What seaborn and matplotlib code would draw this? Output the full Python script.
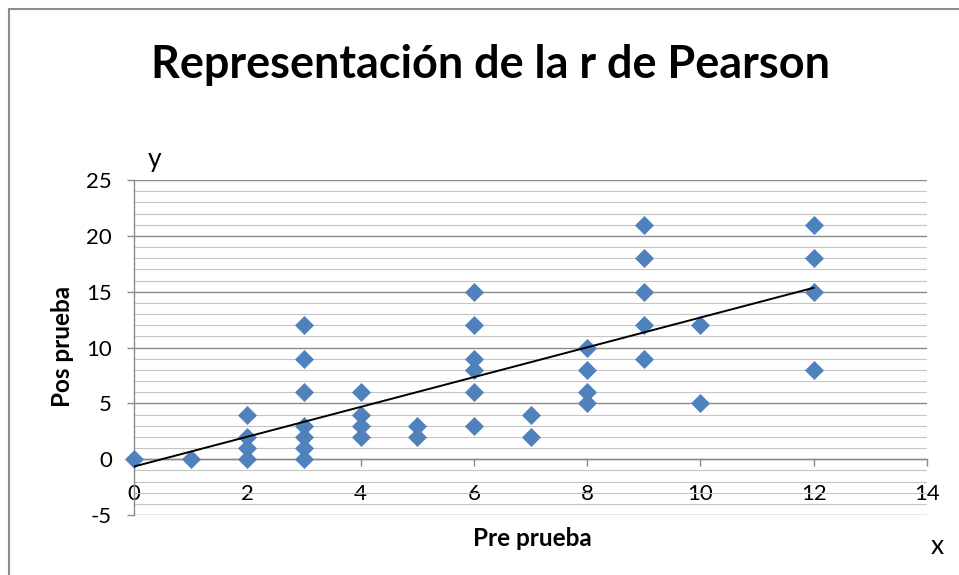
import numpy as np
import pandas as pd
import matplotlib
matplotlib.use("Agg")
import matplotlib.pyplot as plt
from matplotlib.lines import Line2D
from matplotlib.ticker import MultipleLocator
import seaborn as sns

# ---- data ----
pre_prueba = [0, 1,
              2, 2, 2, 2,
              3, 3, 3, 3, 3, 3, 3,
              4, 4, 4, 4,
              5, 5,
              6, 6, 6, 6, 6, 6,
              7, 7,
              8, 8, 8, 8,
              9, 9, 9, 9, 9,
              10, 10,
              12, 12, 12, 12]
pos_prueba = [0, 0,
              4, 2, 1, 0,
              12, 9, 6, 3, 2, 1, 0,
              6, 4, 3, 2,
              3, 2,
              15, 12, 9, 8, 6, 3,
              4, 2,
              10, 8, 6, 5,
              21, 18, 15, 12, 9,
              12, 5,
              21, 18, 15, 8]
trend_x = [0, 12]
trend_y = [-0.66, 15.35]

title = "Representación de la r de Pearson"
xlabel = "Pre prueba"
ylabel = "Pos prueba"
x_ticks = [0, 2, 4, 6, 8, 10, 12, 14]
y_ticks = [-5, 0, 5, 10, 15, 20, 25]

df = pd.DataFrame({"x": pre_prueba, "y": pos_prueba})
trend = pd.DataFrame({"x": trend_x, "y": trend_y})

sns.set_theme(style="white")
plt.rcParams["font.family"] = ["Lato", "DejaVu Sans"]
plt.rcParams["axes.unicode_minus"] = False

W, H = 959, 575
fig = plt.figure(figsize=(W / 100, H / 100), dpi=100)
fig.patch.set_facecolor("white")

ax = fig.add_axes([134 / W, 1 - 515 / H, (927 - 134) / W, (515 - 180) / H])
ax.set_facecolor("white")

sns.scatterplot(data=df, x="x", y="y", ax=ax, marker="D", s=94,
                color="#4F81BD", linewidth=0, zorder=4, clip_on=False)
sns.lineplot(data=trend, x="x", y="y", ax=ax, color="black", linewidth=1.4,
             zorder=5, estimator=None)

ax.set_xlim(0, 14)
ax.set_ylim(-5, 25)
ax.yaxis.set_minor_locator(MultipleLocator(1))
ax.set_xticks(x_ticks)
ax.set_yticks(y_ticks)

ax.grid(False)
ax.set_axisbelow(True)
ax.yaxis.grid(True, which="major", color="#8a8a8a", linewidth=1.0, zorder=0)
ax.yaxis.grid(True, which="minor", color="#c4c4c4", linewidth=0.8, zorder=0)

for s in ["top", "right"]:
    ax.spines[s].set_visible(False)
ax.spines["left"].set_color("#8a8a8a")
ax.spines["left"].set_linewidth(1.0)
ax.spines["bottom"].set_position(("data", 0))
ax.spines["bottom"].set_color("#8a8a8a")
ax.spines["bottom"].set_linewidth(1.0)

ax.tick_params(axis="y", which="major", direction="out", length=5, width=1.0,
               color="#8a8a8a", labelsize=16, pad=11, left=True)
ax.tick_params(axis="y", which="minor", length=0)
ax.tick_params(axis="x", which="major", direction="out", length=5, width=1.0,
               color="#8a8a8a", labelsize=16, pad=13, bottom=True)
for lab in ax.get_xticklabels() + ax.get_yticklabels():
    lab.set_color("black")

ax.set_xlabel("")
ax.set_ylabel("")

# labels and title
fig.text(490 / W, 1 - 78 / H, title, ha="center", va="baseline",
         fontsize=32.4, fontweight="bold", color="black")
fig.text(532 / W, 1 - 538 / H, xlabel, ha="center", va="center",
         fontsize=17.5, fontweight="bold", color="black")
fig.text(62 / W, 1 - 346 / H, ylabel, ha="center", va="center",
         rotation=90, fontsize=17.5, fontweight="bold", color="black")
fig.text(155 / W, 1 - 160 / H, "y", ha="center", va="center",
         fontsize=19, color="black")
fig.text(937 / W, 1 - 546 / H, "x", ha="center", va="center",
         fontsize=19, color="black")

# outer chart border
fig.add_artist(Line2D([9 / W, 9 / W], [0, 1 - 9 / H], transform=fig.transFigure,
                      color="#8c8c8c", linewidth=1.5))
fig.add_artist(Line2D([9 / W, 1], [1 - 9 / H, 1 - 9 / H], transform=fig.transFigure,
                      color="#8c8c8c", linewidth=1.5))

fig.savefig("out.png", dpi=100, facecolor="white")
